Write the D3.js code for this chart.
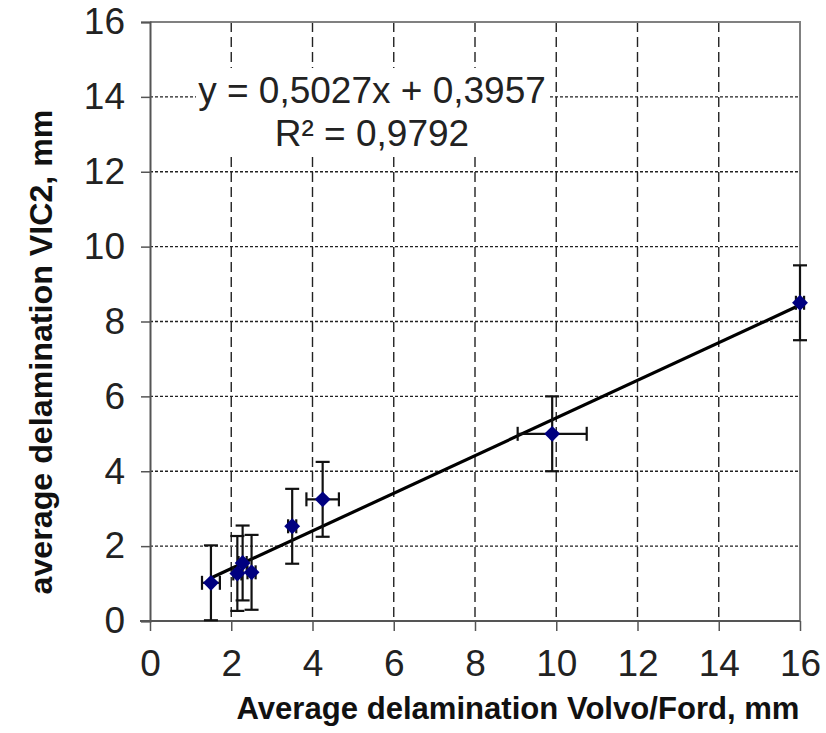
<!DOCTYPE html>
<html>
<head>
<meta charset="utf-8">
<script src="https://cdn.jsdelivr.net/npm/d3@7"></script>
<style>
  body { margin: 0; background: #fff; }
  svg { display: block; }
</style>
</head>
<body>
<svg id="chart" width="826" height="733"></svg>
<script>
// Average delamination: Volvo/Ford method vs VIC2 method (mm)
const xVals   = [1.5, 2.15, 2.28, 2.5, 3.5, 4.25, 9.9, 16.0];
const yVals   = [1.02, 1.27, 1.55, 1.3, 2.53, 3.25, 5.0, 8.5];
const xErr    = [0.22, 0.1, 0.1, 0.1, 0.1, 0.4, 0.85, 0.1];
const yErr    = [1.0, 1.0, 1.0, 1.0, 1.0, 1.0, 1.0, 1.0];
const xTicks  = [0, 2, 4, 6, 8, 10, 12, 14, 16];
const yTicks  = [0, 2, 4, 6, 8, 10, 12, 14, 16];
const slope = 0.5027, intercept = 0.3957, r2 = 0.9792;
const eqLabel = "y = 0,5027x + 0,3957";
const r2Label = "R\u00b2 = 0,9792";
const xTitle = "Average delamination Volvo/Ford, mm";
const yTitle = "average delamination VIC2, mm";

const svg = d3.select("#chart");
const pLeft = 150, pRight = 800, pTop = 22, pBottom = 621;

const x = d3.scaleLinear().domain([0, 16]).range([pLeft, pRight]);
const y = d3.scaleLinear().domain([0, 16]).range([pBottom, pTop]);

const font = "'Liberation Sans', Arial, sans-serif";

// gridlines
svg.append("g")
  .selectAll("line")
  .data(yTicks.filter(d => d > 0 && d < 16))
  .join("line")
  .attr("x1", pLeft).attr("x2", pRight)
  .attr("y1", d => y(d)).attr("y2", d => y(d))
  .attr("stroke", "#222").attr("stroke-width", 1.4)
  .attr("stroke-dasharray", "3,2");

svg.append("g")
  .selectAll("line")
  .data(xTicks.filter(d => d > 0 && d < 16))
  .join("line")
  .attr("x1", d => x(d)).attr("x2", d => x(d))
  .attr("y1", pTop).attr("y2", pBottom)
  .attr("stroke", "#222").attr("stroke-width", 1.4)
  .attr("stroke-dasharray", "10,5");

// plot frame (top and right)
svg.append("path")
  .attr("d", `M${pLeft},${pTop}H${pRight}V${pBottom}`)
  .attr("fill", "none").attr("stroke", "#808080").attr("stroke-width", 2);

// equation box hides the grid behind it
svg.append("rect")
  .attr("x", 196).attr("y", 68).attr("width", 353).attr("height", 84)
  .attr("fill", "#fff");

// axes
const yAxis = svg.append("g")
  .attr("transform", `translate(${pLeft},0)`)
  .call(d3.axisLeft(y).tickValues(yTicks).tickSize(9).tickPadding(16));
const xAxis = svg.append("g")
  .attr("transform", `translate(0,${pBottom})`)
  .call(d3.axisBottom(x).tickValues(xTicks).tickSize(10).tickPadding(19));

[yAxis, xAxis].forEach(g => {
  g.select(".domain").attr("stroke", "#555").attr("stroke-width", 2);
  g.selectAll(".tick line").attr("stroke", "#555").attr("stroke-width", 1.5);
  g.selectAll(".tick text")
    .attr("fill", "#222")
    .style("font-family", font)
    .style("font-size", "37px");
});
xAxis.select(".domain").attr("d", `M${pLeft - 10},0H${pRight}`);

// regression line
const xr = [d3.min(xVals), d3.max(xVals)];
svg.append("line")
  .attr("x1", x(xr[0])).attr("y1", y(slope * xr[0] + intercept))
  .attr("x2", x(xr[1])).attr("y2", y(slope * xr[1] + intercept))
  .attr("stroke", "#000").attr("stroke-width", 3.2);

// error bars
const pts = xVals.map((v, i) => ({ x: v, y: yVals[i], ex: xErr[i], ey: yErr[i] }));
const eb = svg.append("g").attr("stroke", "#111").attr("stroke-width", 2.2);
const cap = 7;
pts.forEach(p => {
  eb.append("line").attr("x1", x(p.x)).attr("x2", x(p.x))
    .attr("y1", y(p.y - p.ey)).attr("y2", y(p.y + p.ey));
  [p.y - p.ey, p.y + p.ey].forEach(v =>
    eb.append("line").attr("x1", x(p.x) - cap).attr("x2", x(p.x) + cap)
      .attr("y1", y(v)).attr("y2", y(v)));
  eb.append("line").attr("x1", x(p.x - p.ex)).attr("x2", x(p.x + p.ex))
    .attr("y1", y(p.y)).attr("y2", y(p.y));
  [p.x - p.ex, p.x + p.ex].forEach(v =>
    eb.append("line").attr("x1", x(v)).attr("x2", x(v))
      .attr("y1", y(p.y) - cap).attr("y2", y(p.y) + cap));
});

// diamond markers
svg.append("g")
  .selectAll("path")
  .data(pts)
  .join("path")
  .attr("transform", d => `translate(${x(d.x)},${y(d.y)})`)
  .attr("d", d3.symbol(d3.symbolDiamond2, 160)())
  .attr("fill", "#000080");

// trendline equation
svg.append("text")
  .attr("x", 372).attr("y", 103)
  .attr("text-anchor", "middle")
  .style("font-family", font).style("font-size", "37px").attr("fill", "#222")
  .text(eqLabel);
svg.append("text")
  .attr("x", 372).attr("y", 146)
  .attr("text-anchor", "middle")
  .style("font-family", font).style("font-size", "37px").attr("fill", "#222")
  .text(r2Label);

// axis titles
svg.append("text")
  .attr("x", 518).attr("y", 719)
  .attr("text-anchor", "middle")
  .attr("textLength", 563).attr("lengthAdjust", "spacingAndGlyphs")
  .style("font-family", font).style("font-weight", "bold").style("font-size", "31px")
  .attr("fill", "#111")
  .text(xTitle);
svg.append("text")
  .attr("transform", "translate(52,352) rotate(-90)")
  .attr("text-anchor", "middle")
  .attr("textLength", 485).attr("lengthAdjust", "spacingAndGlyphs")
  .style("font-family", font).style("font-weight", "bold").style("font-size", "32px")
  .attr("fill", "#111")
  .text(yTitle);
</script>
</body>
</html>
